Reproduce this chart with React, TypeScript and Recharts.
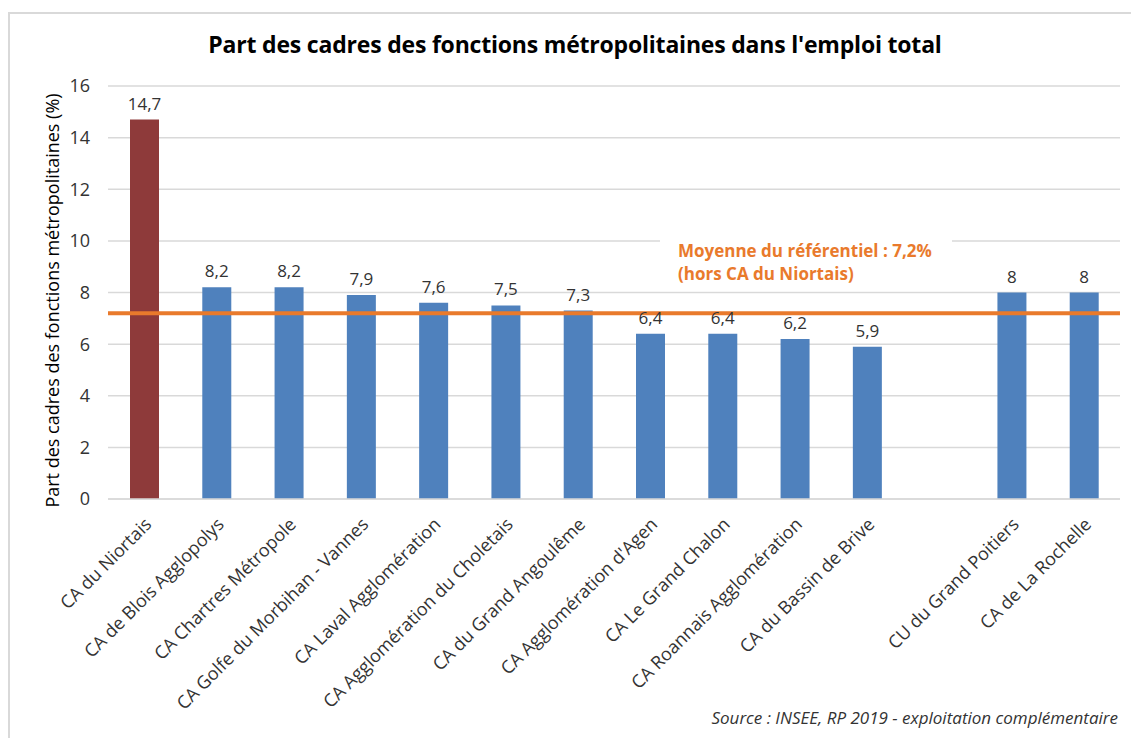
import React from 'react';
import { BarChart, Bar, XAxis, YAxis, CartesianGrid, ReferenceLine, LabelList, Cell, Label } from 'recharts';

const categories = [
  'CA du Niortais',
  'CA de Blois Agglopolys',
  'CA Chartres Métropole',
  'CA Golfe du Morbihan - Vannes',
  'CA Laval Agglomération',
  'CA Agglomération du Choletais',
  'CA du Grand Angoulême',
  "CA Agglomération d'Agen",
  'CA Le Grand Chalon',
  'CA Roannais Agglomération',
  'CA du Bassin de Brive',
  '',
  'CU du Grand Poitiers',
  'CA de La Rochelle',
];
const values: (number | null)[] = [14.7, 8.2, 8.2, 7.9, 7.6, 7.5, 7.3, 6.4, 6.4, 6.2, 5.9, null, 8, 8];
const highlighted = ['CA du Niortais'];
const yTicks = [0, 2, 4, 6, 8, 10, 12, 14, 16];
const meanValue = 7.2;
const meanLine1 = 'Moyenne du référentiel : 7,2%';
const meanLine2 = '(hors CA du Niortais)';
const title = "Part des cadres des fonctions métropolitaines dans l'emploi total";
const yLabel = 'Part des cadres des fonctions métropolitaines (%)';
const source = 'Source : INSEE, RP 2019 - exploitation complémentaire';

const FONT = "'Open Sans', sans-serif";
const BLUE = '#4F81BD';
const BROWN = '#8E3A3A';
const ORANGE = '#E97A2C';
const GRID = '#D9D9D9';
const TXT = '#333333';

const data = categories.map((c, i) => ({ name: c, value: values[i] }));

const XTick = (props: any) => {
  const { x, y, payload } = props;
  return (
    <g transform={`translate(${x + 5},${y + 15})`}>
      <text
        transform="rotate(-45)"
        textAnchor="end"
        fontFamily={FONT}
        fontSize={18}
        fill={TXT}
        dy={5}
      >
        {payload.value}
      </text>
    </g>
  );
};

const YLabel = (props: any) => {
  const vb = props.viewBox || {};
  const cx = (vb.x ?? 0) + 52;
  const cy = (vb.y ?? 0) + (vb.height ?? 0) / 2 + 8;
  return (
    <text
      x={cx}
      y={cy}
      transform={`rotate(-90, ${cx}, ${cy})`}
      textAnchor="middle"
      dominantBaseline="central"
      fontFamily={FONT}
      fontSize={18}
      fill="#000"
    >
      {yLabel}
    </text>
  );
};

const MeanLabel = (props: any) => {
  const vb = props.viewBox || {};
  const x0 = (vb.x ?? 0) + 570;
  const y0 = (vb.y ?? 0) - 76;
  return (
    <g>
      <rect x={x0 - 18} y={y0} width={292} height={54} fill="#ffffff" />
      <text x={x0} y={y0 + 20} fontFamily={FONT} fontSize={17} fontWeight={700} fill={ORANGE}>
        {meanLine1}
      </text>
      <text x={x0} y={y0 + 43} fontFamily={FONT} fontSize={17} fontWeight={700} fill={ORANGE}>
        {meanLine2}
      </text>
    </g>
  );
};

export default function App() {
  return (
    <div style={{ position: 'absolute', left: 0, top: 0, width: 1131, height: 738, background: '#fff', overflow: 'hidden' }}>
      <div
        style={{
          position: 'absolute',
          left: 8,
          top: 12,
          width: 1131,
          height: 740,
          borderTop: `2px solid ${GRID}`,
          borderLeft: `2px solid ${GRID}`,
        }}
      />
      <div
        style={{
          position: 'absolute',
          left: 0,
          top: 28,
          width: 1150,
          textAlign: 'center',
          fontFamily: FONT,
          fontWeight: 700,
          fontSize: 23,
          letterSpacing: -0.2,
          color: '#000',
        }}
      >
        {title}
      </div>
      <div style={{ position: 'absolute', left: 0, top: 0 }}>
        <BarChart
          width={1131}
          height={738}
          data={data}
          margin={{ top: 86, right: 11, bottom: 0, left: 0 }}
        >
          <CartesianGrid vertical={false} stroke={GRID} strokeWidth={1.5} />
          <XAxis
            dataKey="name"
            interval={0}
            height={239}
            tickLine={false}
            axisLine={{ stroke: GRID, strokeWidth: 1.5 }}
            tick={<XTick />}
          />
          <YAxis
            width={108}
            domain={[0, 16]}
            ticks={yTicks}
            axisLine={false}
            tickLine={false}
            tickMargin={12}
            tick={{ fontFamily: FONT, fontSize: 18, fill: TXT }}
          >
            <Label content={<YLabel />} />
          </YAxis>
          <Bar dataKey="value" barSize={29} isAnimationActive={false}>
            {data.map((d, i) => (
              <Cell key={i} fill={highlighted.includes(d.name) ? BROWN : BLUE} />
            ))}
            <LabelList
              dataKey="value"
              position="top"
              offset={10}
              formatter={(v: any) => (v == null ? '' : String(v).replace('.', ','))}
              style={{ fontFamily: FONT, fontSize: 17, fill: TXT }}
            />
          </Bar>
          <ReferenceLine y={meanValue} stroke={ORANGE} strokeWidth={4} label={<MeanLabel />} />
        </BarChart>
      </div>
      <div
        style={{
          position: 'absolute',
          right: 13,
          top: 706,
          fontFamily: FONT,
          fontStyle: 'italic',
          fontSize: 17,
          color: TXT,
        }}
      >
        {source}
      </div>
    </div>
  );
}
